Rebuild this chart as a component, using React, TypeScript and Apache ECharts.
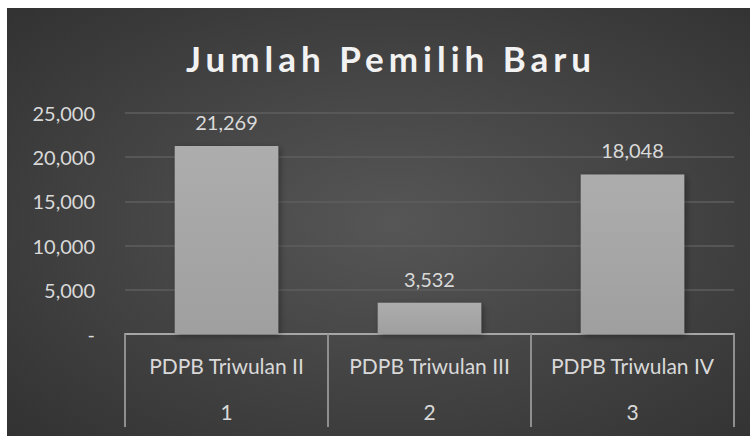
import React, { useEffect, useRef } from "react";
import * as echarts from "echarts";

const title = "Jumlah Pemilih Baru";
const categories = ["PDPB Triwulan II", "PDPB Triwulan III", "PDPB Triwulan IV"];
const periods = ["1", "2", "3"];
const values = [21269, 3532, 18048];
const yMin = 0;
const yMax = 25000;
const yInterval = 5000;

const FONT = "Lato, 'Open Sans', sans-serif";

export default function App() {
  const ref = useRef<HTMLDivElement>(null);
  useEffect(() => {
    if (!ref.current) return;
    const chart = echarts.init(ref.current, undefined, { renderer: "svg" });
    const fmt = (v: number) => (v === 0 ? "-" : v.toLocaleString("en-US"));
    chart.setOption({
      animation: false,
      backgroundColor: {
        type: "radial",
        x: 0.52,
        y: 0.5,
        r: 1.0,
        colorStops: [
          { offset: 0, color: "#565656" },
          { offset: 1, color: "#242424" },
        ],
      },
      graphic: [
        {
          type: "text",
          x: 384,
          y: 32,
          style: {
            text: title,
            textAlign: "center",
            textVerticalAlign: "top",
            font: `bold 35px ${FONT}`,
            fill: "#f2f2f2",
            shadowColor: "rgba(0,0,0,0.7)",
            shadowBlur: 5,
            shadowOffsetY: 2,
          },
        },
      ],
      grid: { left: 118, right: 16, top: 105, bottom: 102, containLabel: false },
      xAxis: [
        {
          type: "category",
          data: categories,
          position: "bottom",
          axisLine: { show: true, lineStyle: { color: "#a6a6a6", width: 2 } },
          axisTick: { show: true, interval: 0, length: 93, lineStyle: { color: "#8f8f8f", width: 2 } },
          axisLabel: { interval: 0, color: "#d9d9d9", fontFamily: FONT, fontSize: 21, margin: 21 },
          splitLine: { show: false },
        },
        {
          type: "category",
          data: periods,
          position: "bottom",
          axisLine: { show: false },
          axisTick: { show: false },
          axisLabel: { interval: 0, color: "#d9d9d9", fontFamily: FONT, fontSize: 21, margin: 67 },
          splitLine: { show: false },
        },
      ],
      yAxis: {
        type: "value",
        min: yMin,
        max: yMax,
        interval: yInterval,
        axisLine: { show: false },
        axisTick: { show: false },
        axisLabel: {
          color: "#d9d9d9",
          fontFamily: FONT,
          fontSize: 20,
          margin: 30,
          formatter: fmt,
        },
        splitLine: { lineStyle: { color: "#5e5e5e", width: 1.5 } },
      },
      series: [
        {
          type: "bar",
          data: values,
          xAxisIndex: 0,
          barWidth: "51%",
          itemStyle: {
            color: {
              type: "linear",
              x: 0,
              y: 0,
              x2: 0,
              y2: 1,
              colorStops: [
                { offset: 0, color: "#adadad" },
                { offset: 1, color: "#9f9f9f" },
              ],
            },
            shadowColor: "rgba(0,0,0,0.35)",
            shadowBlur: 6,
            shadowOffsetX: 2,
            shadowOffsetY: 2,
          },
          label: {
            show: true,
            position: "top",
            distance: 14,
            color: "#d9d9d9",
            fontFamily: FONT,
            fontSize: 20,
            formatter: (p: any) => fmt(p.value),
          },
        },
      ],
    });
    const texts = ref.current.querySelectorAll("text");
    texts.forEach((t) => {
      if (t.textContent === title) {
        (t as SVGTextElement).style.letterSpacing = "5px";
      }
    });
    return () => chart.dispose();
  }, []);
  return (
    <div
      ref={ref}
      style={{ position: "absolute", left: 7, top: 8, width: 743, height: 428 }}
    />
  );
}
